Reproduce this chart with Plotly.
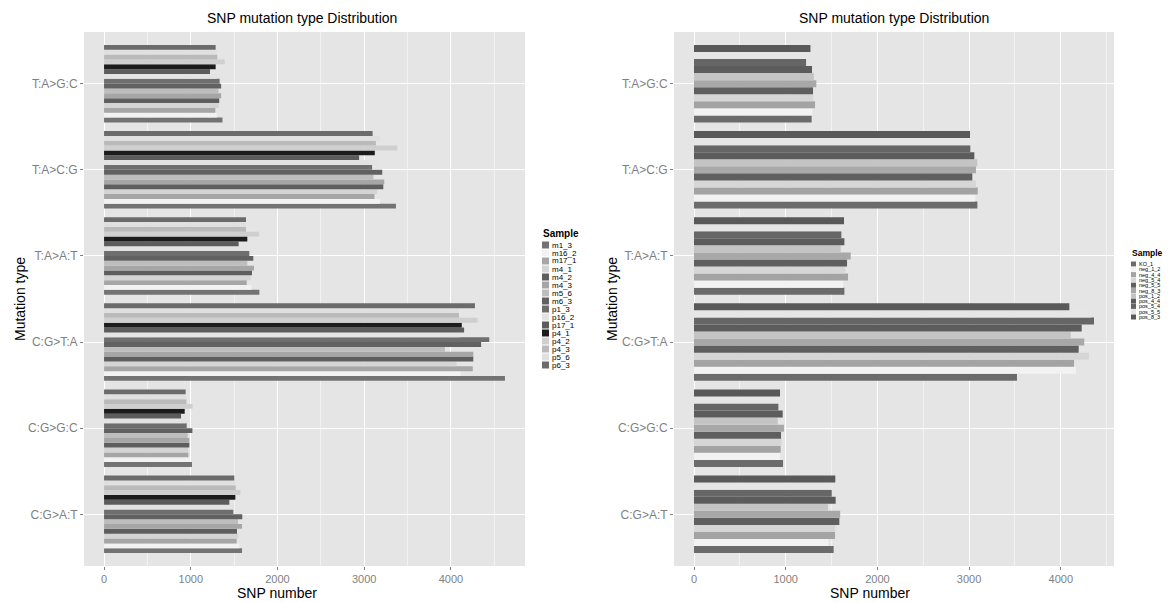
import plotly.graph_objects as go

# ---------------- data ----------------
mutation_types = ["T:A>G:C", "T:A>C:G", "T:A>A:T", "C:G>T:A", "C:G>G:C", "C:G>A:T"]

# left chart samples (values in mutation_types order)
m1_3 = [1366, 3366, 1791, 4623, 1014, 1591]
m16_2 = [1300, 3181, 1700, 4112, 990, 1560]
m17_1 = [1283, 3118, 1645, 4252, 972, 1529]
m4_1 = [1320, 3150, 1690, 4065, 970, 1550]
m4_2 = [1328, 3220, 1706, 4258, 983, 1533]
m4_3 = [1350, 3231, 1729, 4258, 983, 1591]
m5_6 = [1320, 3106, 1652, 3931, 964, 1545]
m6_3 = [1350, 3208, 1721, 4348, 1019, 1594]
p1_3 = [1333, 3091, 1675, 4442, 953, 1491]
p16_2 = [1300, 3150, 1650, 4100, 940, 1500]
p17_1 = [1222, 2941, 1552, 4152, 888, 1445]
p4_1 = [1287, 3122, 1652, 4125, 930, 1514]
p4_2 = [1392, 3381, 1787, 4307, 1021, 1572]
p4_3 = [1306, 3135, 1637, 4092, 950, 1518]
p5_6 = [1300, 3181, 1640, 4092, 941, 1510]
p6_3 = [1287, 3097, 1637, 4277, 941, 1502]

left_samples = ["m1_3", "m16_2", "m17_1", "m4_1", "m4_2", "m4_3", "m5_6", "m6_3",
                "p1_3", "p16_2", "p17_1", "p4_1", "p4_2", "p4_3", "p5_6", "p6_3"]
left_values = [m1_3, m16_2, m17_1, m4_1, m4_2, m4_3, m5_6, m6_3,
               p1_3, p16_2, p17_1, p4_1, p4_2, p4_3, p5_6, p6_3]

# right chart samples
KO_1 = [1283, 3090, 1640, 3522, 971, 1523]
neg_1_2 = [1290, 3068, 1628, 4166, 938, 1465]
neg_4_4 = [1320, 3094, 1680, 4144, 945, 1538]
neg_5_4 = [1300, 3075, 1650, 4308, 955, 1540]
neg_5_5 = [1298, 3035, 1669, 4195, 949, 1585]
neg_8_3 = [1334, 3075, 1709, 4256, 981, 1594]
pos_1_2 = [1307, 3090, 1600, 4108, 913, 1462]
pos_4_4 = [1287, 3057, 1640, 4228, 967, 1545]
pos_5_4 = [1222, 3013, 1607, 4362, 920, 1502]
pos_5_5 = [1280, 3090, 1640, 4330, 950, 1520]
pos_8_3 = [1270, 3010, 1636, 4093, 938, 1541]

right_samples = ["KO_1", "neg_1_2", "neg_4_4", "neg_5_4", "neg_5_5", "neg_8_3",
                 "pos_1_2", "pos_4_4", "pos_5_4", "pos_5_5", "pos_8_3"]
right_values = [KO_1, neg_1_2, neg_4_4, neg_5_4, neg_5_5, neg_8_3,
                pos_1_2, pos_4_4, pos_5_4, pos_5_5, pos_8_3]

x_ticks = [0, 1000, 2000, 3000, 4000]

# ---------------- styles ----------------
left_colors = ["#737373", "#f2f2f2", "#a6a6a6", "#d4d4d4", "#5e5e5e", "#a6a6a6", "#bdbdbd", "#616161",
               "#6e6e6e", "#e3e3e3", "#5c5c5c", "#1c1c1c", "#cfcfcf", "#bababa", "#e0e0e0", "#6b6b6b"]
right_colors = ["#6b6b6b", "#f2f2f2", "#a3a3a3", "#d6d6d6", "#5f5f5f", "#a8a8a8",
                "#c4c4c4", "#5c5c5c", "#666666", "#e6e6e6", "#595959"]

W, H = 1176, 603
FONT = "Liberation Sans, Arial, Helvetica, sans-serif"


def px(x):
    return x / W


def py(y):
    return 1 - y / H


fig = go.Figure()
for name, vals, col in zip(left_samples, left_values, left_colors):
    fig.add_trace(go.Bar(x=vals, y=mutation_types, orientation="h", name=name,
                         marker=dict(color=col, line=dict(width=0)),
                         xaxis="x", yaxis="y", showlegend=False))
for name, vals, col in zip(right_samples, right_values, right_colors):
    fig.add_trace(go.Bar(x=vals, y=mutation_types, orientation="h", name=name,
                         marker=dict(color=col, line=dict(width=0)),
                         xaxis="x2", yaxis="y2", showlegend=False))

left_max = max(max(v) for v in left_values)
right_max = max(max(v) for v in right_values)

xcommon = dict(tickvals=x_ticks, showgrid=True, gridcolor="white", gridwidth=1.4,
               minor=dict(dtick=500, tick0=0, showgrid=True, gridcolor="#f2f2f2", gridwidth=0.6),
               zeroline=False, ticks="outside", ticklen=3, tickcolor="#7f7f7f",
               tickfont=dict(size=11, color="#7f7f7f", family=FONT), showline=False)
ycommon = dict(type="category", categoryorder="array", categoryarray=mutation_types[::-1],
               range=[-0.6, len(mutation_types) - 0.4], showgrid=True, gridcolor="white", gridwidth=1.4,
               ticks="outside", ticklen=3, tickcolor="#7f7f7f",
               tickfont=dict(size=12, color="#7f7f7f", family=FONT), showline=False, zeroline=False)

ydom = [py(566), py(32)]
fig.update_layout(
    width=W, height=H, margin=dict(l=0, r=0, t=0, b=0),
    paper_bgcolor="white", plot_bgcolor="#e5e5e5",
    barmode="group", bargap=0.1, bargroupgap=0,
    font=dict(family=FONT),
    xaxis=dict(domain=[px(84), px(525)], anchor="y", range=[-0.05 * left_max, 1.05 * left_max], **xcommon),
    yaxis=dict(domain=ydom, anchor="x", **ycommon),
    xaxis2=dict(domain=[px(674), px(1114)], anchor="y2", range=[-0.05 * right_max, 1.05 * right_max], **xcommon),
    yaxis2=dict(domain=ydom, anchor="x2", **ycommon),
)

annotations = []
shapes = []
for cx, ax_cx, tx in [(302, 277, 20), (894, 870, 612)]:
    annotations.append(dict(text="SNP mutation type Distribution", x=px(cx), y=py(18), xref="paper", yref="paper",
                            showarrow=False, font=dict(size=14, color="black", family=FONT),
                            xanchor="center", yanchor="middle"))
    annotations.append(dict(text="SNP number", x=px(ax_cx), y=py(593), xref="paper", yref="paper",
                            showarrow=False, font=dict(size=14, color="black", family=FONT),
                            xanchor="center", yanchor="middle"))
    annotations.append(dict(text="Mutation type", x=px(tx), y=py(299), xref="paper", yref="paper",
                            showarrow=False, textangle=-90, font=dict(size=14, color="black", family=FONT),
                            xanchor="center", yanchor="middle"))


def add_legend(samples, colors, x0, y_title, y_first, step, key, tsize, fsize):
    annotations.append(dict(text="<b>Sample</b>", x=px(x0), y=py(y_title), xref="paper", yref="paper",
                            showarrow=False, font=dict(size=tsize, color="black", family=FONT),
                            xanchor="left", yanchor="middle", borderpad=0))
    for i, (s, c) in enumerate(zip(samples, colors)):
        yc = y_first + i * step
        shapes.append(dict(type="rect", xref="paper", yref="paper",
                           x0=px(x0), x1=px(x0 + key), y0=py(yc - key / 2), y1=py(yc + key / 2),
                           fillcolor=c, line=dict(width=0)))
        annotations.append(dict(text=s, x=px(x0 + key + 2), y=py(yc), xref="paper", yref="paper",
                                showarrow=False, font=dict(size=fsize, color="black", family=FONT),
                                xanchor="left", yanchor="middle", borderpad=0))


add_legend(left_samples, left_colors, 542, 233, 245, 8, 7, 10, 8)
add_legend(right_samples, right_colors, 1131, 253, 264, 5.3, 5, 8.5, 5.5)

fig.update_layout(annotations=annotations, shapes=shapes)
fig.write_html("out.html")
